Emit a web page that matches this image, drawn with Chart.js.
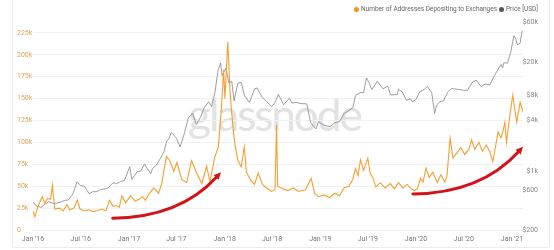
<!DOCTYPE html>
<html>
<head>
<meta charset="utf-8">
<script src="https://cdn.jsdelivr.net/npm/chart.js@4.4.1/dist/chart.umd.min.js"></script>
<style>
  body { margin: 0; background: #fff; }
  #wrap { position: relative; width: 554px; height: 250px; overflow: hidden; }
  #card { position: absolute; left: 12px; top: -2px; width: 538px; height: 250px; border: 1px solid #ececec; border-radius: 3px; box-sizing: border-box; }
  #mark { position: absolute; left: 188px; top: 88px; font: 400 44px Lato, sans-serif; letter-spacing: -2px; color: #e2e2e2; }
  #c { position: absolute; left: 0; top: 0; }
  .leg { position: absolute; top: 5px; font: 6.5px Roboto, sans-serif; color: #666; white-space: nowrap; }
  .dot { display: inline-block; width: 5px; height: 5px; border-radius: 50%; margin-right: 2px; vertical-align: -0.5px; }
</style>
</head>
<body>
<div id="wrap">
  <div id="card"></div>
  <div id="mark">glassnode</div>
  <canvas id="c" width="554" height="250"></canvas>
  <div class="leg" style="left:354px"><span class="dot" style="background:#f7931a"></span>Number of Addresses Depositing to Exchanges</div>
  <div class="leg" style="left:499px"><span class="dot" style="background:#555"></span>Price [USD]</div>
</div>
<script>
'use strict';
// addresses depositing to exchanges (thousands)
const addrDates = ['2016-01-01', '2016-01-08', '2016-01-20', '2016-02-05', '2016-02-15', '2016-02-25', '2016-03-08', '2016-03-15', '2016-03-24', '2016-04-10',
  '2016-04-25', '2016-05-10', '2016-05-20', '2016-06-05', '2016-06-18', '2016-06-28', '2016-07-15', '2016-08-01', '2016-08-15', '2016-09-01',
  '2016-09-20', '2016-10-05', '2016-10-19', '2016-11-01', '2016-11-12', '2016-11-25', '2016-12-05', '2016-12-19', '2017-01-07', '2017-01-25',
  '2017-02-08', '2017-02-21', '2017-03-05', '2017-03-18', '2017-04-06', '2017-04-24', '2017-05-06', '2017-05-24', '2017-06-06', '2017-06-21',
  '2017-07-03', '2017-07-21', '2017-08-09', '2017-08-28', '2017-09-15', '2017-10-06', '2017-10-24', '2017-11-06', '2017-11-24', '2017-12-08',
  '2017-12-20', '2017-12-28', '2018-01-02', '2018-01-13', '2018-01-22', '2018-02-01', '2018-02-08', '2018-02-20', '2018-03-05', '2018-03-17',
  '2018-03-25', '2018-04-10', '2018-04-25', '2018-05-09', '2018-05-25', '2018-06-10', '2018-06-28', '2018-07-12', '2018-07-18', '2018-07-22',
  '2018-08-10', '2018-08-30', '2018-09-20', '2018-10-10', '2018-11-05', '2018-11-27', '2018-12-10', '2018-12-25', '2019-01-15', '2019-02-05',
  '2019-02-25', '2019-03-15', '2019-04-01', '2019-04-20', '2019-05-05', '2019-05-15', '2019-05-25', '2019-06-03', '2019-06-15', '2019-07-01',
  '2019-07-10', '2019-07-20', '2019-08-01', '2019-08-18', '2019-09-05', '2019-09-25', '2019-10-10', '2019-10-26', '2019-11-12', '2019-11-28',
  '2019-12-10', '2019-12-25', '2020-01-06', '2020-01-18', '2020-01-28', '2020-02-08', '2020-02-20', '2020-03-05', '2020-03-22', '2020-04-05',
  '2020-04-20', '2020-04-28', '2020-05-10', '2020-05-21', '2020-06-05', '2020-06-20', '2020-07-05', '2020-07-20', '2020-07-31', '2020-08-12',
  '2020-08-28', '2020-09-10', '2020-09-25', '2020-10-09', '2020-10-20', '2020-11-09', '2020-11-20', '2020-11-27', '2020-12-05', '2020-12-11',
  '2020-12-24', '2021-01-04', '2021-01-19', '2021-02-01', '2021-02-12'];
const addrValues = [22, 15, 27, 38, 30, 36, 35, 51, 24, 25,
  22, 29, 23, 25, 34, 24, 22, 23, 21, 22,
  24, 22, 34, 27, 28, 26, 39, 31, 39, 33,
  35, 38, 34, 41, 48, 42, 53, 84, 79, 67,
  77, 58, 54, 79, 66, 53, 73, 55, 83, 95,
  140, 183, 150, 215, 155, 120, 100, 80, 72, 95,
  66, 57, 52, 65, 52, 48, 44, 46, 120, 50,
  47, 45, 48, 44, 46, 59, 42, 38, 40, 37,
  42, 39, 48, 50, 58, 70, 62, 80, 68, 82,
  65, 60, 49, 54, 48, 53, 47, 54, 48, 52,
  48, 45, 47, 59, 55, 71, 60, 66, 54, 63,
  55, 62, 105, 82, 88, 94, 86, 92, 103, 92,
  100, 90, 97, 89, 78, 112, 105, 112, 123, 100,
  131, 154, 123, 146, 135];

// BTC price in USD
const priceDates = ['2016-01-01', '2016-01-15', '2016-02-01', '2016-02-15', '2016-03-01', '2016-03-15', '2016-04-01', '2016-04-15', '2016-05-01', '2016-05-15',
  '2016-06-01', '2016-06-17', '2016-07-01', '2016-07-15', '2016-08-02', '2016-08-15', '2016-09-01', '2016-09-15', '2016-10-01', '2016-10-15',
  '2016-11-01', '2016-11-15', '2016-12-01', '2016-12-15', '2017-01-04', '2017-01-12', '2017-02-01', '2017-02-15', '2017-03-01', '2017-03-10',
  '2017-03-25', '2017-04-01', '2017-04-15', '2017-05-01', '2017-05-15', '2017-05-25', '2017-06-01', '2017-06-12', '2017-07-01', '2017-07-15',
  '2017-08-01', '2017-08-15', '2017-09-01', '2017-09-15', '2017-10-01', '2017-10-15', '2017-11-01', '2017-11-12', '2017-11-25', '2017-12-07',
  '2017-12-17', '2017-12-22', '2018-01-06', '2018-01-17', '2018-01-28', '2018-02-06', '2018-02-20', '2018-03-05', '2018-03-18', '2018-04-06',
  '2018-04-25', '2018-05-05', '2018-05-25', '2018-06-10', '2018-06-28', '2018-07-10', '2018-07-25', '2018-08-14', '2018-09-05', '2018-09-15',
  '2018-10-01', '2018-10-20', '2018-11-10', '2018-11-25', '2018-12-15', '2018-12-25', '2019-01-10', '2019-01-28', '2019-02-07', '2019-02-25',
  '2019-03-15', '2019-04-02', '2019-04-20', '2019-05-05', '2019-05-15', '2019-06-01', '2019-06-15', '2019-06-26', '2019-07-06', '2019-07-16',
  '2019-08-06', '2019-08-28', '2019-09-15', '2019-09-26', '2019-10-22', '2019-10-26', '2019-11-10', '2019-11-25', '2019-12-10', '2019-12-18',
  '2020-01-01', '2020-01-15', '2020-02-01', '2020-02-13', '2020-03-01', '2020-03-12', '2020-03-20', '2020-04-01', '2020-04-15', '2020-05-01',
  '2020-05-15', '2020-06-01', '2020-06-15', '2020-07-01', '2020-07-15', '2020-08-01', '2020-08-17', '2020-09-05', '2020-09-20', '2020-10-08',
  '2020-10-22', '2020-11-05', '2020-11-20', '2020-11-26', '2020-12-01', '2020-12-15', '2020-12-27', '2021-01-08', '2021-01-14', '2021-01-22',
  '2021-02-01', '2021-02-08', '2021-02-12'];
const priceValues = [430, 385, 372, 405, 435, 415, 417, 430, 450, 456,
  536, 750, 675, 665, 540, 570, 572, 608, 615, 640,
  730, 712, 755, 780, 1130, 800, 985, 1010, 1220, 1100,
  940, 1080, 1180, 1420, 1730, 2300, 2400, 2900, 2480, 1950,
  2870, 4300, 4900, 3600, 4400, 5700, 6700, 5900, 8700, 16000,
  19500, 13800, 17000, 11200, 11800, 6900, 11200, 11500, 7900, 6600,
  9600, 9800, 7500, 6800, 5900, 6400, 8200, 6200, 7400, 6500,
  6600, 6400, 6350, 3800, 3200, 3900, 3600, 3450, 3400, 3800,
  3900, 4900, 5300, 5700, 8000, 8600, 8700, 12900, 11300, 9400,
  11800, 9600, 10300, 8100, 8200, 9500, 8800, 7000, 7300, 6700,
  7200, 8800, 9400, 10300, 8600, 4900, 6200, 6700, 6900, 8800,
  9700, 9500, 9400, 9200, 9200, 11300, 12200, 10200, 10900, 10700,
  13000, 15600, 18700, 17000, 19600, 19400, 26000, 41000, 39000, 32000,
  33500, 46000, 47500];

const xTickDates = ['2016-01-01', '2016-07-01', '2017-01-01', '2017-07-01', '2018-01-01', '2018-07-01', '2019-01-01', '2019-07-01', '2020-01-01', '2020-07-01', '2021-01-01'];
const xTickLabels = ["Jan '16", "Jul '16", "Jan '17", "Jul '17", "Jan '18", "Jul '18", "Jan '19", "Jul '19", "Jan '20", "Jul '20", "Jan '21"];
const addrTicks = [0, 25, 50, 75, 100, 125, 150, 175, 200, 225];
const addrTickLabels = ['0', '25k', '50k', '75k', '100k', '125k', '150k', '175k', '200k', '225k'];
const priceTicks = [200, 600, 1000, 4000, 8000, 20000, 60000];
const priceTickLabels = ['$200', '$600', '$1k', '$4k', '$8k', '$20k', '$60k'];

// red annotation arrows: [start date, start value(k), end date, end value(k)]
const arrows = [
  ['2016-10-31', 13.5, '2017-12-18', 66],
  ['2019-12-20', 41, '2021-02-12', 95]
];

const t0 = Date.parse('2016-01-01');
function day(d) {
  return (Date.parse(d) - t0) / 86400000;
}

const addrPoints = addrDates.map((d, i) => ({ x: day(d), y: addrValues[i] }));
const pricePoints = priceDates.map((d, i) => ({ x: day(d), y: priceValues[i] }));

const arrowPlugin = {
  id: 'arrows',
  afterDatasetsDraw(chart) {
    const ctx = chart.ctx;
    const xs = chart.scales.x;
    const ys = chart.scales.y;
    arrows.forEach(a => {
      const x0 = xs.getPixelForValue(day(a[0]));
      const y0 = ys.getPixelForValue(a[1]);
      const x1 = xs.getPixelForValue(day(a[2]));
      const y1 = ys.getPixelForValue(a[3]);
      const cx = x0 + (x1 - x0) * 0.62;
      const cy = y0 + (y1 - y0) * 0.02;
      const ang = Math.atan2(y1 - cy, x1 - cx);
      const head = 8;
      const ex = x1 - Math.cos(ang) * head * 0.8;
      const ey = y1 - Math.sin(ang) * head * 0.8;
      ctx.save();
      ctx.strokeStyle = '#d4121a';
      ctx.fillStyle = '#d4121a';
      ctx.lineWidth = 3;
      ctx.lineCap = 'round';
      ctx.beginPath();
      ctx.moveTo(x0, y0);
      ctx.quadraticCurveTo(cx, cy, ex, ey);
      ctx.stroke();
      ctx.beginPath();
      ctx.moveTo(x1, y1);
      ctx.lineTo(x1 - Math.cos(ang - 0.45) * head, y1 - Math.sin(ang - 0.45) * head);
      ctx.lineTo(x1 - Math.cos(ang + 0.45) * head, y1 - Math.sin(ang + 0.45) * head);
      ctx.closePath();
      ctx.fill();
      ctx.restore();
    });
  }
};

const ctx = document.getElementById('c').getContext('2d');
const chart = new Chart(ctx, {
  type: 'line',
  data: {
    datasets: [{
      label: 'Number of Addresses Depositing to Exchanges',
      data: addrPoints,
      borderColor: '#f6a032',
      borderWidth: 1.1,
      pointRadius: 0,
      yAxisID: 'y'
    },
    {
      label: 'Price [USD]',
      data: pricePoints,
      borderColor: '#858585',
      borderWidth: 0.8,
      pointRadius: 0,
      yAxisID: 'y1'
    }]
  },
  options: {
    responsive: false,
    animation: false,
    layout: { padding: { left: 17, right: 16, top: 11, bottom: 0 } },
    plugins: { legend: { display: false }, tooltip: { enabled: false } },
    scales: {
      x: {
        type: 'linear',
        min: 0,
        max: day('2021-02-12'),
        afterBuildTicks: s => { s.ticks = xTickDates.map(d => ({ value: day(d) })); },
        afterFit: s => { s.height = 20; },
        ticks: {
          autoSkip: false,
          maxRotation: 0,
          padding: 5,
          color: '#777',
          font: { family: 'Roboto', size: 7 },
          callback: (v, i) => xTickLabels[i]
        },
        grid: { display: false, drawTicks: false },
        border: { display: false }
      },
      y: {
        position: 'left',
        min: 0,
        max: 250,
        afterBuildTicks: s => { s.ticks = addrTicks.map(v => ({ value: v })); },
        afterFit: s => { s.width = 16; },
        ticks: {
          crossAlign: 'far',
          color: '#e0a35c',
          font: { family: 'Roboto', size: 7 },
          callback: (v, i) => addrTickLabels[i]
        },
        grid: { color: '#f1f1f1', drawTicks: false, lineWidth: 1 },
        border: { display: false }
      },
      y1: {
        type: 'logarithmic',
        position: 'right',
        min: 200,
        max: 81000,
        afterBuildTicks: s => { s.ticks = priceTicks.map(v => ({ value: v })); },
        afterFit: s => { s.width = 15; },
        ticks: {
          crossAlign: 'far',
          color: '#888',
          font: { family: 'Roboto', size: 7 },
          callback: (v, i) => priceTickLabels[i]
        },
        grid: { display: false, drawTicks: false },
        border: { display: false }
      }
    }
  },
  plugins: [arrowPlugin]
});
</script>
</body>
</html>
